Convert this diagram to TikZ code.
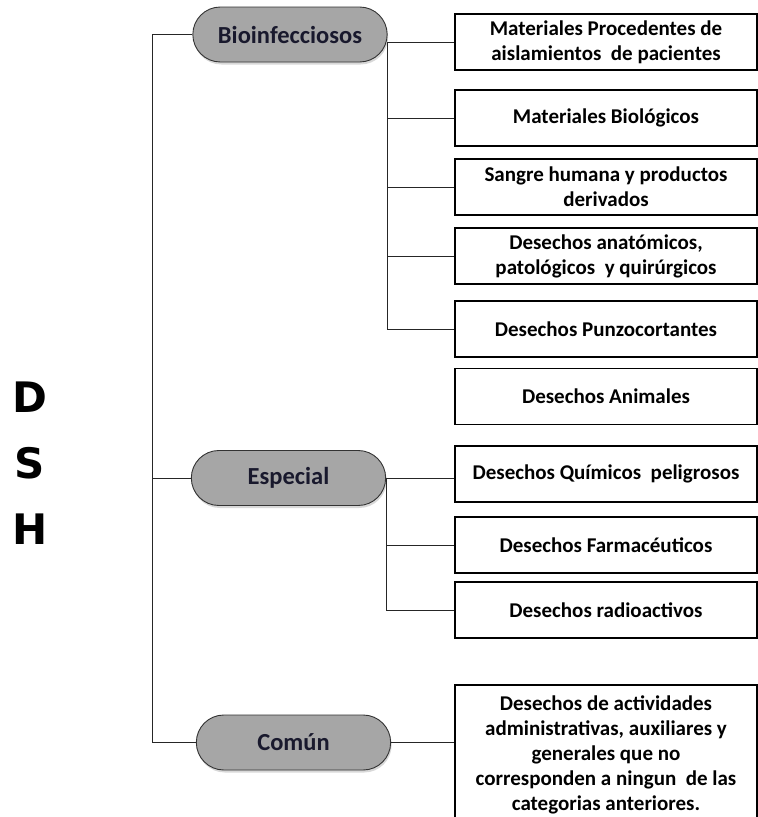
\documentclass[tikz,border=0pt]{standalone}
\usepackage{fontspec}
\setmainfont{Carlito}
\newfontfamily\dshfont{DejaVu Sans}
\usetikzlibrary{shapes.misc, shadows, positioning}
\definecolor{pillgray}{RGB}{166,166,166}
\definecolor{pilltext}{RGB}{25,25,45}

\begin{document}
\begin{tikzpicture}[x=1pt, y=-1pt,
    pill/.style={rounded rectangle, draw=black!80, fill=pillgray, line width=0.9pt,
      minimum width=201pt, minimum height=55pt, text=pilltext,
      font=\bfseries\fontsize{24.5}{28}\selectfont,
      drop shadow={shadow xshift=1pt, shadow yshift=-2.5pt, opacity=0.3}},
    catbox/.style={draw, line width=1.1pt, minimum width=302pt, minimum height=56pt,
      align=center, inner sep=0pt, font=\bfseries\fontsize{21}{25}\selectfont},
    link/.style={line width=1pt, draw=black!85}]

        % Page frame
        \clip (0,0) rectangle (758,817);
        \fill[white] (0,0) rectangle (758,817);

        % Side label
        \foreach \l/\y in {D/397, S/463, H/529} {
            \node[font=\dshfont\bfseries\fontsize{42}{42}\selectfont] (lbl\l) at (30,\y) {\l};
        }

        % Categories
        \node[pill] (bio) at (290,34.5) {Bioinfecciosos};
        \node[pill] (esp) at (288.5,478) {Especial};
        \node[pill] (com) at (293.5,742.5) {Común};

        % Bioinfecciosos boxes
        \node[catbox] (m1) at (606,42) {Materiales Procedentes de\\aislamientos\ \ de pacientes};
        \node[catbox] (m2) at (606,118) {Materiales Biológicos};
        \node[catbox] (m3) at (606,187) {Sangre humana y productos\\derivados};
        \node[catbox] (m4) at (606,256) {Desechos anatómicos,\\patológicos\ \ y quirúrgicos};
        \node[catbox] (m5) at (606,329) {Desechos Punzocortantes};
        \node[catbox] (m6) at (606,396.5) {Desechos Animales};

        % Especial boxes
        \node[catbox] (e1) at (606,474) {Desechos Químicos\ \ peligrosos};
        \node[catbox] (e2) at (606,545) {Desechos Farmacéuticos};
        \node[catbox] (e3) at (606,610) {Desechos radioactivos};

        % Comun box (runs off the bottom)
        \node[catbox, minimum height=140pt] (c1) at (606,755)
            {Desechos de actividades\\administrativas, auxiliares y\\generales que no\\corresponden a ningun\ \ de las\\categorias anteriores.};

        % Left trunk
        \coordinate (trunk) at (152,34.5);
        \draw[link] (bio.west) -- (trunk) |- (com.west);
        \draw[link] (trunk |- esp.west) -- (esp.west);

        % Bioinfecciosos bus
        \draw[link] (bio.east |- m1.west) -- (m1.west);
        \draw[link] (bio.east |- m1.west) |- (m5.west);
        \foreach \b in {m2,m3,m4} {
            \draw[link] (bio.east |- \b.west) -- (\b.west);
        }

        % Especial bus
        \draw[link] (esp.east) -- (esp.east -| e1.west);
        \draw[link] (esp.east) |- (e3.west);
        \draw[link] (esp.east |- e2.west) -- (e2.west);

        % Comun link
        \draw[link] (com.east) -- (com.east -| c1.west);

    \end{tikzpicture}
\end{document}
